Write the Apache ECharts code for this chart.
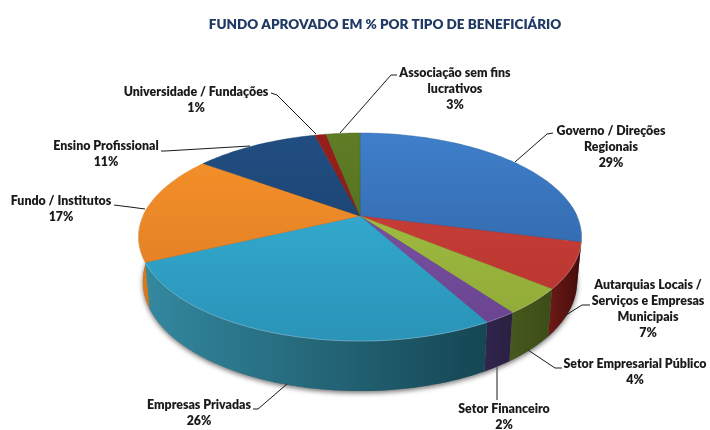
<!DOCTYPE html>
<html>
<head>
<meta charset="utf-8">
<style>
html,body{margin:0;padding:0;background:#fff;}
#main{width:710px;height:430px;}
</style>
<script src="https://cdn.jsdelivr.net/npm/echarts@6/dist/echarts.min.js"></script>
</head>
<body>
<div id="main"></div>
<script>
var categories = ['Governo / Direções\nRegionais', 'Autarquias Locais /\nServiços e Empresas\nMunicipais', 'Setor Empresarial Público', 'Setor Financeiro', 'Empresas Privadas', 'Fundo / Institutos', 'Ensino Profissional', 'Universidade / Fundações', 'Associação sem fins\nlucrativos'];
var values = [29, 7, 4, 2, 26, 17, 11, 1, 3];

// cores da face superior (cima, baixo) e da lateral (esquerda, direita)
var topColors = [['#3f7fcb', '#2b5d9b'], ['#d0433c', '#b4332d'], ['#a9c746', '#8ea736'], ['#8258ad', '#68438e'], ['#38b5d9', '#2a93b8'], ['#f8932a', '#d87823'], ['#214e82', '#153a64'], ['#971f1b', '#7e1915'], ['#5f7d25', '#4b661d']];
var sideColors = [['#2b5d9b', '#234c80'], ['#6e1a16', '#430d0b'], ['#47591d', '#3c4c18'], ['#30264c', '#2a2042'], ['#33889f', '#154653'], ['#de7d20', '#cf7219'], ['#153a64', '#153a64'], ['#7e1915', '#7e1915'], ['#4b661d', '#4b661d']];

// centro das etiquetas e linhas de ligacao
var labelPos = [[611, 147], [648, 309], [635, 372], [504, 417], [199, 413], [61, 209], [106, 154], [196, 100], [455, 89]];
var leaders = [
	[[553, 133], [547, 134], [515, 162]],
	[[590, 305], [582, 305], [566, 315]],
	[[562, 368], [555, 368], [528, 350]],
	[[497, 367], [497, 400]],
	[[253, 409], [258, 409], [287, 384]],
	[[114, 205], [130, 207], [145, 209]],
	[[161, 151], [165, 151], [250, 146]],
	[[271, 93], [277, 95], [316, 134]],
	[[397, 75], [391, 75], [340, 133]]
];

// pizza em perspectiva
var cx = 360, cy = 216, rx = 217, ry = 99.8, persp = 0.202, depth = 43, depthFront = 7, lowerScale = 0.98;

var total = 0;
for (var i = 0; i < values.length; i++) total += values[i];

function sliceRange(idx) {
	var sum = 0;
	for (var i = 0; i < idx; i++) sum += values[i];
	return [sum / total * Math.PI * 2, (sum + values[idx]) / total * Math.PI * 2];
}
function rimPoint(a, lower) {
	var X = Math.sin(a), Y = Math.cos(a), w = 1 + persp * Y;
	var drop = lower ? depth - depthFront * Y : 0;
	var scale = lower ? lowerScale : 1;
	return [cx + rx * X / w * scale, cy - ry * Y / w + drop];
}
function arcPoints(a0, a1, lower) {
	var pts = [], n = Math.max(2, Math.ceil((a1 - a0) / 0.02));
	for (var i = 0; i <= n; i++) pts.push(rimPoint(a0 + (a1 - a0) * i / n, lower));
	return pts;
}
function grad(x, y, x2, y2, c) {
	return new echarts.graphic.LinearGradient(x, y, x2, y2, [{offset: 0, color: c[0]}, {offset: 1, color: c[1]}], true);
}

function renderSide(params, api) {
	var idx = api.value(0), r = sliceRange(idx), children = [];
	if (idx === 0) {
		children.push({
			type: 'polygon',
			shape: {points: arcPoints(0, Math.PI * 2, true)},
			style: {fill: '#777', shadowBlur: 5, shadowColor: 'rgba(0,0,0,0.55)', shadowOffsetY: 2}
		});
	}
	// so a parte da frente aparece
	var a0 = Math.max(r[0], Math.PI / 2 - 0.1), a1 = Math.min(r[1], Math.PI * 1.5 + 0.1);
	if (a1 > a0) {
		var up = arcPoints(a0, a1, false), down = arcPoints(a0, a1, true).reverse();
		var xs = up.concat(down).map(function(p) { return p[0]; });
		var left = Math.min.apply(null, xs), right = Math.max.apply(null, xs);
		children.push({
			type: 'polygon',
			shape: {points: up.concat(down)},
			style: {fill: grad(left, 0, right, 0, sideColors[idx])}
		});
	}
	return {type: 'group', children: children};
}

function renderTop(params, api) {
	var idx = api.value(0), r = sliceRange(idx);
	var pts = [[cx, cy]].concat(arcPoints(r[0], r[1], false));
	var children = [{
		type: 'polygon',
		shape: {points: pts},
		style: {fill: grad(0, 133, 0, 341, topColors[idx]), stroke: topColors[idx][1], lineWidth: 0.4}
	}];
	var a0 = Math.max(r[0], Math.PI / 2), a1 = Math.min(r[1], Math.PI * 1.5);
	if (a1 > a0) {
		children.push({
			type: 'polyline',
			shape: {points: arcPoints(a0, a1, false)},
			style: {fill: null, stroke: 'rgba(255,255,255,0.25)', lineWidth: 1}
		});
	}
	return {type: 'group', children: children};
}

function renderLabel(params, api) {
	var idx = api.value(0);
	return {
		type: 'group',
		children: [{
			type: 'polyline',
			shape: {points: leaders[idx]},
			style: {fill: null, stroke: idx === 3 ? '#666' : '#1a1a1a', lineWidth: idx === 3 ? 1.5 : 1}
		}, {
			type: 'text',
			x: labelPos[idx][0],
			y: labelPos[idx][1],
			style: {
				text: categories[idx] + '\n' + values[idx] + '%',
				fill: '#1a1a1a',
				font: '800 12.4px Lato',
				lineHeight: 16,
				align: 'center',
				verticalAlign: 'middle'
			}
		}]
	};
}

var seriesData = values.map(function(v, i) { return [i, v]; });
var myChart = echarts.init(document.getElementById('main'));
myChart.setOption({
	animation: false,
	backgroundColor: '#fff',
	title: {
		text: 'FUNDO APROVADO EM % POR TIPO DE BENEFICIÁRIO',
		left: 380,
		top: 13,
		textAlign: 'center',
		textStyle: {color: '#1f3a64', fontFamily: 'Lato', fontWeight: 800, fontSize: 13.5}
	},
	series: [
		{type: 'custom', coordinateSystem: 'none', silent: true, z: 1, data: seriesData, renderItem: renderSide},
		{type: 'custom', coordinateSystem: 'none', silent: true, z: 2, data: seriesData, renderItem: renderTop},
		{type: 'custom', coordinateSystem: 'none', silent: true, z: 3, data: seriesData, renderItem: renderLabel}
	]
});
</script>
</body>
</html>
